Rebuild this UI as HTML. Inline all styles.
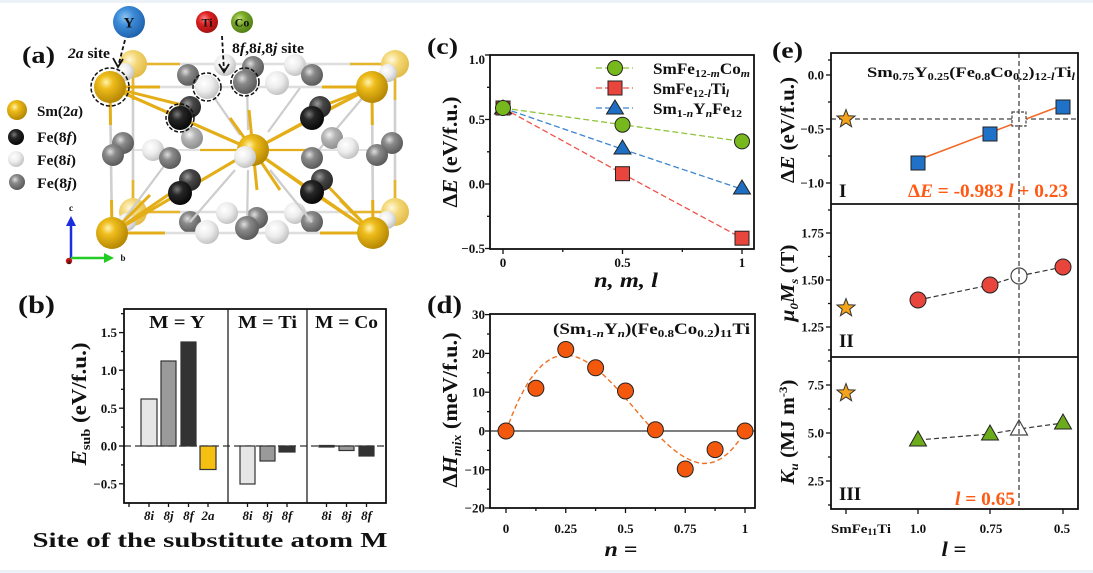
<!DOCTYPE html>
<html><head><meta charset="utf-8">
<style>
html,body{margin:0;padding:0;background:#fff;}
svg{display:block;}
svg text{font-family:"Liberation Serif","Times New Roman","Tinos","Nimbus Roman",Times,serif;font-weight:bold;fill:#111;}
</style></head><body>
<svg width="1093" height="573" viewBox="0 0 1093 573" xmlns="http://www.w3.org/2000/svg" font-family="'Liberation Serif','Times New Roman',Tinos,'Nimbus Roman',Times,serif" font-weight="bold">
<defs>
<radialGradient id="gGold" cx="0.38" cy="0.35" r="0.7"><stop offset="0" stop-color="#fff3b0"/><stop offset="0.3" stop-color="#efbd1c"/><stop offset="1" stop-color="#b08200"/></radialGradient>
<radialGradient id="gFade" cx="0.38" cy="0.35" r="0.7"><stop offset="0" stop-color="#fff8dc"/><stop offset="0.4" stop-color="#f4d877"/><stop offset="1" stop-color="#e0b944"/></radialGradient>
<radialGradient id="gBlack" cx="0.38" cy="0.35" r="0.7"><stop offset="0" stop-color="#7a7a7a"/><stop offset="0.35" stop-color="#262626"/><stop offset="1" stop-color="#050505"/></radialGradient>
<radialGradient id="gDark" cx="0.38" cy="0.35" r="0.7"><stop offset="0" stop-color="#9a9a9a"/><stop offset="0.4" stop-color="#474747"/><stop offset="1" stop-color="#262626"/></radialGradient>
<radialGradient id="gGray" cx="0.38" cy="0.35" r="0.7"><stop offset="0" stop-color="#dedede"/><stop offset="0.35" stop-color="#8a8a8a"/><stop offset="1" stop-color="#555"/></radialGradient>
<radialGradient id="gLgray" cx="0.38" cy="0.35" r="0.7"><stop offset="0" stop-color="#f2f2f2"/><stop offset="0.4" stop-color="#b4b4b4"/><stop offset="1" stop-color="#8a8a8a"/></radialGradient>
<radialGradient id="gWhite" cx="0.38" cy="0.35" r="0.7"><stop offset="0" stop-color="#ffffff"/><stop offset="0.5" stop-color="#ececec"/><stop offset="1" stop-color="#bdbdbd"/></radialGradient>
<radialGradient id="gBlue" cx="0.38" cy="0.35" r="0.7"><stop offset="0" stop-color="#8cc4f0"/><stop offset="0.4" stop-color="#3b8ad8"/><stop offset="1" stop-color="#1d5fa8"/></radialGradient>
<radialGradient id="gRed" cx="0.38" cy="0.35" r="0.7"><stop offset="0" stop-color="#ff8a8a"/><stop offset="0.4" stop-color="#dc2020"/><stop offset="1" stop-color="#9c1010"/></radialGradient>
<radialGradient id="gGreen" cx="0.38" cy="0.35" r="0.7"><stop offset="0" stop-color="#c4e47a"/><stop offset="0.4" stop-color="#79a82a"/><stop offset="1" stop-color="#4e7a12"/></radialGradient>
<polygon id="star" points="0,-9.5 2.35,-3.24 9.04,-2.94 3.8,1.24 5.58,7.69 0,4 -5.58,7.69 -3.8,1.24 -9.04,-2.94 -2.35,-3.24" fill="#f5a31a" stroke="#333" stroke-width="1"/>
</defs>

<rect width="1093" height="573" fill="#fff"/>
<rect width="1093" height="3" fill="#edf2f8"/>
<rect y="570" width="1093" height="3" fill="#edf2f8"/>

<!-- ================= PANEL (a) ================= -->
<text x="22" y="63" font-size="24" textLength="33" lengthAdjust="spacingAndGlyphs">(a)</text>

<circle cx="129" cy="22" r="16" fill="url(#gBlue)"/>
<text x="129" y="27.5" font-size="15" text-anchor="middle">Y</text>
<circle cx="207" cy="22" r="11" fill="url(#gRed)"/>
<text x="207" y="26.5" font-size="12" text-anchor="middle">Ti</text>
<circle cx="242" cy="22" r="11" fill="url(#gGreen)"/>
<text x="242" y="26.5" font-size="12" text-anchor="middle">Co</text>

<text x="68" y="58" font-size="15" textLength="42" lengthAdjust="spacingAndGlyphs"><tspan font-style="italic">2a</tspan> site</text>
<text x="232" y="53" font-size="15" textLength="72" lengthAdjust="spacingAndGlyphs">8<tspan font-style="italic">f</tspan>,8<tspan font-style="italic">i</tspan>,8<tspan font-style="italic">j</tspan> site</text>

<circle cx="17" cy="110" r="10" fill="url(#gGold)"/>
<text x="37" y="116" font-size="15" textLength="46" lengthAdjust="spacingAndGlyphs">Sm(2<tspan font-style="italic">a</tspan>)</text>
<circle cx="16" cy="137" r="8" fill="url(#gBlack)"/>
<text x="37" y="142" font-size="15" textLength="40" lengthAdjust="spacingAndGlyphs">Fe(8<tspan font-style="italic">f</tspan>)</text>
<circle cx="16" cy="159" r="8" fill="url(#gWhite)"/>
<text x="37" y="165" font-size="15" textLength="39" lengthAdjust="spacingAndGlyphs">Fe(8<tspan font-style="italic">i</tspan>)</text>
<circle cx="17" cy="182" r="8" fill="url(#gGray)"/>
<text x="37" y="188" font-size="15" textLength="40" lengthAdjust="spacingAndGlyphs">Fe(8<tspan font-style="italic">j</tspan>)</text>

<line x1="71" y1="258" x2="71" y2="224" stroke="#1a2ee0" stroke-width="2.5"/>
<polygon points="66,226 71,216 76,226" fill="#1a2ee0"/>
<text x="71" y="211" font-size="9" text-anchor="middle">c</text>
<line x1="71" y1="258" x2="106" y2="258" stroke="#22cc22" stroke-width="2.5"/>
<polygon points="104,253 114,258 104,263" fill="#22cc22"/>
<text x="123" y="261" font-size="9" text-anchor="middle">b</text>
<circle cx="69" cy="261" r="3.2" fill="#c01818"/>
<text x="69" y="264" font-size="7" text-anchor="middle">a</text>

<g stroke-width="2.6" fill="none">
 <line x1="113" y1="150" x2="393" y2="150" stroke="#e2e2e2" stroke-width="2"/>
 <line x1="133" y1="64" x2="395" y2="64" stroke="#dedede"/>
 <line x1="133" y1="64" x2="180" y2="64" stroke="#e6b62a"/>
 <line x1="350" y1="64" x2="395" y2="64" stroke="#e6b62a"/>
 <line x1="133" y1="212" x2="395" y2="212" stroke="#dedede"/>
 <line x1="133" y1="212" x2="180" y2="212" stroke="#e6b62a"/>
 <line x1="350" y1="212" x2="395" y2="212" stroke="#e6b62a"/>
 <line x1="133" y1="64" x2="133" y2="212" stroke="#cfcfcf"/>
 <line x1="395" y1="64" x2="395" y2="212" stroke="#cfcfcf"/>
 <line x1="133" y1="64" x2="133" y2="100" stroke="#e6b62a"/>
 <line x1="133" y1="180" x2="133" y2="212" stroke="#e6b62a"/>
 <line x1="395" y1="64" x2="395" y2="100" stroke="#e6b62a"/>
 <line x1="395" y1="180" x2="395" y2="212" stroke="#e6b62a"/>
 <line x1="110" y1="87" x2="133" y2="64" stroke="#e6b62a"/>
 <line x1="372" y1="87" x2="395" y2="64" stroke="#e6b62a"/>
 <line x1="112" y1="233" x2="133" y2="212" stroke="#e6b62a"/>
 <line x1="373" y1="233" x2="395" y2="212" stroke="#e6b62a"/>
</g>

<circle cx="133" cy="64" r="14" fill="url(#gFade)"/>
<circle cx="395" cy="64" r="14" fill="url(#gFade)"/>
<circle cx="133" cy="212" r="14" fill="url(#gFade)"/>
<circle cx="395" cy="212" r="14" fill="url(#gFade)"/>
<circle cx="125" cy="72" r="9" fill="url(#gWhite)"/>
<circle cx="388" cy="73" r="9" fill="url(#gWhite)"/>
<circle cx="127" cy="222" r="9" fill="url(#gWhite)"/>
<circle cx="387" cy="220" r="9" fill="url(#gWhite)"/>

<circle cx="188" cy="75" r="11" fill="url(#gGray)"/>
<circle cx="225" cy="65" r="11" fill="url(#gWhite)"/>
<circle cx="253" cy="67" r="11" fill="url(#gGray)"/>
<circle cx="295" cy="65" r="11" fill="url(#gWhite)"/>
<circle cx="312" cy="75" r="11" fill="url(#gGray)"/>
<circle cx="227" cy="213" r="11" fill="url(#gWhite)"/>
<circle cx="257" cy="218" r="11" fill="url(#gGray)"/>
<circle cx="295" cy="213" r="11" fill="url(#gWhite)"/>
<circle cx="312" cy="222" r="11" fill="url(#gGray)"/>
<circle cx="190" cy="222" r="11" fill="url(#gGray)"/>

<g stroke="#cdcdcd" stroke-width="2.2" fill="none">
 <line x1="207" y1="87" x2="240" y2="135"/>
 <line x1="247" y1="82" x2="248" y2="130"/>
 <line x1="300" y1="88" x2="268" y2="132"/>
 <line x1="312" y1="158" x2="365" y2="95"/>
 <line x1="170" y1="158" x2="120" y2="225"/>
 <line x1="190" y1="222" x2="235" y2="170"/>
 <line x1="247" y1="228" x2="248" y2="170"/>
 <line x1="312" y1="222" x2="270" y2="170"/>
</g>

<g stroke="#e3ae18" stroke-width="3" fill="none">
 <line x1="110" y1="87" x2="372" y2="87" stroke="#dedede" stroke-width="2.6"/>
 <line x1="110" y1="87" x2="160" y2="87"/>
 <line x1="322" y1="87" x2="372" y2="87"/>
 <line x1="112" y1="233" x2="373" y2="233" stroke="#dedede" stroke-width="2.6"/>
 <line x1="112" y1="233" x2="165" y2="233"/>
 <line x1="320" y1="233" x2="373" y2="233"/>
 <line x1="110" y1="87" x2="112" y2="233" stroke="#cfcfcf" stroke-width="2.6"/>
 <line x1="110" y1="87" x2="110.5" y2="125"/>
 <line x1="111.5" y1="200" x2="112" y2="233"/>
 <line x1="372" y1="87" x2="373" y2="233" stroke="#cfcfcf" stroke-width="2.6"/>
 <line x1="372" y1="87" x2="372.3" y2="125"/>
 <line x1="372.7" y1="200" x2="373" y2="233"/>
 <line x1="253" y1="150" x2="110" y2="87"/>
 <line x1="253" y1="150" x2="372" y2="87"/>
 <line x1="253" y1="150" x2="112" y2="233"/>
 <line x1="253" y1="150" x2="373" y2="233"/>
 <line x1="253" y1="150" x2="180" y2="118"/>
 <line x1="253" y1="150" x2="312" y2="118"/>
 <line x1="253" y1="150" x2="180" y2="193"/>
 <line x1="253" y1="150" x2="312" y2="192"/>
 <line x1="253" y1="150" x2="230" y2="118"/>
 <line x1="253" y1="150" x2="249" y2="110"/>
 <line x1="253" y1="150" x2="257" y2="190"/>
 <line x1="253" y1="150" x2="280" y2="190"/>
 <line x1="253" y1="150" x2="200" y2="150" stroke-width="2.2"/>
 <line x1="253" y1="150" x2="306" y2="150" stroke-width="2.2"/>
 <line x1="110" y1="87" x2="180" y2="118"/>
 <line x1="110" y1="87" x2="190" y2="107"/>
 <line x1="372" y1="87" x2="312" y2="118"/>
 <line x1="372" y1="87" x2="320" y2="107"/>
 <line x1="112" y1="233" x2="180" y2="193"/>
 <line x1="112" y1="233" x2="190" y2="180"/>
 <line x1="373" y1="233" x2="312" y2="192"/>
 <line x1="373" y1="233" x2="322" y2="180"/>
 <line x1="112" y1="233" x2="150" y2="195"/>
 <line x1="373" y1="233" x2="340" y2="200"/>
</g>

<circle cx="207" cy="87" r="12" fill="url(#gWhite)"/>
<circle cx="245" cy="82" r="12" fill="url(#gGray)"/>
<circle cx="277" cy="83" r="12" fill="url(#gWhite)"/>

<circle cx="190" cy="107" r="11" fill="url(#gDark)"/>
<circle cx="320" cy="107" r="11" fill="url(#gDark)"/>
<circle cx="180" cy="118" r="12" fill="url(#gBlack)"/>
<circle cx="312" cy="118" r="12" fill="url(#gBlack)"/>
<circle cx="192" cy="138" r="11" fill="url(#gLgray)"/>
<circle cx="332" cy="138" r="11" fill="url(#gLgray)"/>
<circle cx="123" cy="143" r="11" fill="url(#gGray)"/>
<circle cx="113" cy="155" r="11" fill="url(#gGray)"/>
<circle cx="392" cy="143" r="11" fill="url(#gGray)"/>
<circle cx="377" cy="155" r="11" fill="url(#gGray)"/>
<circle cx="153" cy="150" r="11" fill="url(#gWhite)"/>
<circle cx="348" cy="148" r="11" fill="url(#gWhite)"/>
<circle cx="170" cy="158" r="11" fill="url(#gGray)"/>
<circle cx="312" cy="158" r="11" fill="url(#gGray)"/>
<circle cx="253" cy="150" r="16" fill="url(#gGold)"/>
<circle cx="245" cy="157" r="11" fill="url(#gWhite)"/>
<circle cx="190" cy="180" r="11" fill="url(#gDark)"/>
<circle cx="322" cy="180" r="11" fill="url(#gDark)"/>
<circle cx="180" cy="193" r="12" fill="url(#gBlack)"/>
<circle cx="312" cy="192" r="12" fill="url(#gBlack)"/>

<circle cx="207" cy="232" r="12" fill="url(#gWhite)"/>
<circle cx="247" cy="228" r="12" fill="url(#gGray)"/>
<circle cx="277" cy="232" r="12" fill="url(#gWhite)"/>

<circle cx="110" cy="87" r="16" fill="url(#gGold)"/>
<circle cx="372" cy="87" r="16" fill="url(#gGold)"/>
<circle cx="112" cy="233" r="16" fill="url(#gGold)"/>
<circle cx="373" cy="233" r="16" fill="url(#gGold)"/>

<g fill="none" stroke="#111" stroke-width="1.5" stroke-dasharray="4,2">
 <circle cx="110" cy="87" r="19"/>
 <circle cx="207" cy="87" r="14"/>
 <circle cx="245" cy="82" r="14"/>
 <circle cx="180" cy="118" r="14"/>
</g>
<g stroke="#111" stroke-width="1.8" fill="none">
 <line x1="125" y1="40" x2="118.5" y2="65" stroke-dasharray="4,2.5"/>
 <polyline points="113,58 118,67 123,59"/>
 <line x1="222" y1="36" x2="224" y2="71" stroke-dasharray="4,2.5"/>
 <polyline points="219,64 224,72 229,64"/>
</g>

<!-- ================= PANEL (b) ================= -->
<text x="18" y="313" font-size="25" textLength="37" lengthAdjust="spacingAndGlyphs">(b)</text>
<line x1="124" y1="446" x2="386" y2="446" stroke="#333" stroke-width="1.3" stroke-dasharray="7,4"/>
<g stroke="#333" stroke-width="1.2">
 <rect x="141" y="399" width="16" height="47" fill="#e6e6e6"/>
 <rect x="161" y="361" width="15" height="85" fill="#9a9a9a"/>
 <rect x="181" y="342" width="15" height="104" fill="#333"/>
 <rect x="200" y="446" width="16" height="23.5" fill="#f5c012"/>
 <rect x="240" y="446" width="15" height="38" fill="#e6e6e6"/>
 <rect x="260" y="446" width="15" height="15" fill="#9a9a9a"/>
 <rect x="279" y="446" width="16" height="6" fill="#333"/>
 <rect x="319" y="445.5" width="15" height="1.5" fill="#333"/>
 <rect x="339" y="446" width="15" height="4.5" fill="#9a9a9a"/>
 <rect x="359" y="446" width="15" height="10" fill="#333"/>
</g>
<line x1="228" y1="309" x2="228" y2="503" stroke="#222" stroke-width="1.3"/>
<line x1="307" y1="309" x2="307" y2="503" stroke="#222" stroke-width="1.3"/>
<rect x="124" y="309" width="262" height="194" fill="none" stroke="#111" stroke-width="1.8"/>
<g stroke="#111" stroke-width="1.3">
 <line x1="119" y1="332.6" x2="124" y2="332.6"/><line x1="119" y1="370.2" x2="124" y2="370.2"/>
 <line x1="119" y1="408.2" x2="124" y2="408.2"/><line x1="119" y1="446" x2="124" y2="446"/>
 <line x1="119" y1="483.8" x2="124" y2="483.8"/>
 <line x1="121" y1="313.7" x2="124" y2="313.7"/><line x1="121" y1="351.5" x2="124" y2="351.5"/>
 <line x1="121" y1="389.3" x2="124" y2="389.3"/><line x1="121" y1="427.1" x2="124" y2="427.1"/>
 <line x1="121" y1="464.9" x2="124" y2="464.9"/>
 <line x1="129" y1="503" x2="129" y2="507"/><line x1="149" y1="503" x2="149" y2="507"/>
 <line x1="168.5" y1="503" x2="168.5" y2="507"/><line x1="188.5" y1="503" x2="188.5" y2="507"/>
 <line x1="208" y1="503" x2="208" y2="507"/><line x1="247.5" y1="503" x2="247.5" y2="507"/>
 <line x1="267.5" y1="503" x2="267.5" y2="507"/><line x1="287" y1="503" x2="287" y2="507"/>
 <line x1="326.5" y1="503" x2="326.5" y2="507"/><line x1="346.5" y1="503" x2="346.5" y2="507"/>
 <line x1="366.5" y1="503" x2="366.5" y2="507"/>
</g>
<g font-size="13" text-anchor="end">
 <text x="117" y="337">1.5</text><text x="117" y="375">1.0</text><text x="117" y="413">0.5</text>
 <text x="117" y="450.5">0.0</text><text x="117" y="488.5">−0.5</text>
</g>
<text x="177" y="328" font-size="18" text-anchor="middle" textLength="56" lengthAdjust="spacingAndGlyphs">M = Y</text>
<text x="267.5" y="328" font-size="18" text-anchor="middle" textLength="59" lengthAdjust="spacingAndGlyphs">M = Ti</text>
<text x="346.5" y="328" font-size="18" text-anchor="middle" textLength="63" lengthAdjust="spacingAndGlyphs">M = Co</text>
<g font-size="13" font-style="italic" text-anchor="middle">
 <text x="149" y="520">8i</text><text x="168.5" y="520">8j</text><text x="188.5" y="520">8f</text><text x="208" y="520">2a</text>
 <text x="247.5" y="520">8i</text><text x="267.5" y="520">8j</text><text x="287" y="520">8f</text>
 <text x="326.5" y="520">8i</text><text x="346.5" y="520">8j</text><text x="366.5" y="520">8f</text>
</g>
<text x="210" y="547" font-size="21" text-anchor="middle" textLength="355" lengthAdjust="spacingAndGlyphs">Site of the substitute atom M</text>
<text transform="translate(86,404) rotate(-90)" font-size="21" text-anchor="middle" textLength="123" lengthAdjust="spacingAndGlyphs"><tspan font-style="italic">E</tspan><tspan font-size="13" dy="4">sub</tspan><tspan dy="-4"> (eV/f.u.)</tspan></text>

<!-- ================= PANEL (c) ================= -->
<text x="427" y="54" font-size="23" textLength="31" lengthAdjust="spacingAndGlyphs">(c)</text>
<polyline points="503,108 622.5,124.7 742,141.4" fill="none" stroke="#8fc43a" stroke-width="1.3" stroke-dasharray="6,3"/>
<polyline points="503,108 622.5,173.7 742,238.2" fill="none" stroke="#f0544a" stroke-width="1.3" stroke-dasharray="6,3"/>
<polyline points="503,108 622.5,149.2 742,189.2" fill="none" stroke="#3d85d0" stroke-width="1.3" stroke-dasharray="6,3"/>
<g fill="#1e6fc4" stroke="#222" stroke-width="1">
 <polygon points="503,100 511.5,114 494.5,114"/>
 <polygon points="622.5,140 631,154 614,154"/>
 <polygon points="742,180 750.5,194 733.5,194"/>
</g>
<g fill="#e8453c" stroke="#222" stroke-width="1">
 <rect x="496" y="101" width="14" height="14"/>
 <rect x="615.5" y="166.7" width="14" height="14"/>
 <rect x="735" y="231.2" width="14" height="14"/>
</g>
<g fill="#77b81d" stroke="#222" stroke-width="1">
 <circle cx="503" cy="108" r="7.5"/><circle cx="622.5" cy="124.7" r="7.5"/><circle cx="742" cy="141.4" r="7.5"/>
</g>
<line x1="596" y1="68" x2="633" y2="68" stroke="#8fc43a" stroke-width="1.3" stroke-dasharray="6,3"/>
<circle cx="615" cy="68" r="7.5" fill="#77b81d" stroke="#222"/>
<line x1="596" y1="88" x2="633" y2="88" stroke="#f0544a" stroke-width="1.3" stroke-dasharray="6,3"/>
<rect x="608" y="81" width="14" height="14" fill="#e8453c" stroke="#222"/>
<line x1="596" y1="108" x2="633" y2="108" stroke="#3d85d0" stroke-width="1.3" stroke-dasharray="6,3"/>
<polygon points="615,100 623.5,114 606.5,114" fill="#1e6fc4" stroke="#222"/>
<text x="653" y="74" font-size="16" textLength="97" lengthAdjust="spacingAndGlyphs">SmFe<tspan font-size="11" dy="3">12-<tspan font-style="italic">m</tspan></tspan><tspan dy="-3">Co</tspan><tspan font-size="11" dy="3" font-style="italic">m</tspan></text>
<text x="653" y="94" font-size="16" textLength="76" lengthAdjust="spacingAndGlyphs">SmFe<tspan font-size="11" dy="3">12-<tspan font-style="italic">l</tspan></tspan><tspan dy="-3">Ti</tspan><tspan font-size="11" dy="3" font-style="italic">l</tspan></text>
<text x="653" y="114" font-size="16" textLength="89" lengthAdjust="spacingAndGlyphs">Sm<tspan font-size="11" dy="3">1-<tspan font-style="italic">n</tspan></tspan><tspan dy="-3">Y</tspan><tspan font-size="11" dy="3" font-style="italic">n</tspan><tspan dy="-3">Fe</tspan><tspan font-size="11" dy="3">12</tspan></text>
<rect x="490" y="55" width="264" height="194" fill="none" stroke="#111" stroke-width="1.8"/>
<g stroke="#111" stroke-width="1.3">
 <line x1="485" y1="55" x2="490" y2="55"/><line x1="485" y1="119.5" x2="490" y2="119.5"/>
 <line x1="485" y1="184" x2="490" y2="184"/><line x1="485" y1="248.5" x2="490" y2="248.5"/>
 <line x1="487" y1="87.3" x2="490" y2="87.3"/><line x1="487" y1="151.8" x2="490" y2="151.8"/>
 <line x1="487" y1="216.3" x2="490" y2="216.3"/>
 <line x1="503" y1="249" x2="503" y2="254"/><line x1="622.5" y1="249" x2="622.5" y2="254"/>
 <line x1="742" y1="249" x2="742" y2="254"/>
 <line x1="562.8" y1="249" x2="562.8" y2="252"/><line x1="682.3" y1="249" x2="682.3" y2="252"/>
</g>
<g font-size="13" text-anchor="end">
 <text x="485" y="64">1.0</text><text x="485" y="124">0.5</text><text x="485" y="188.5">0.0</text><text x="485" y="253">−0.5</text>
</g>
<g font-size="13" text-anchor="middle">
 <text x="503" y="267">0</text><text x="622.5" y="267">0.5</text><text x="742" y="267">1</text>
</g>
<text x="626" y="287" font-size="21" font-style="italic" text-anchor="middle" textLength="64" lengthAdjust="spacingAndGlyphs">n, m, l</text>
<text transform="translate(457,152) rotate(-90)" font-size="21" text-anchor="middle" textLength="111" lengthAdjust="spacingAndGlyphs">Δ<tspan font-style="italic">E</tspan> (eV/f.u.)</text>

<!-- ================= PANEL (d) ================= -->
<text x="427" y="313" font-size="25" textLength="35" lengthAdjust="spacingAndGlyphs">(d)</text>
<line x1="490" y1="431" x2="755" y2="431" stroke="#555" stroke-width="1.5"/>
<polyline fill="none" stroke="#f07020" stroke-width="1.4" stroke-dasharray="5,3" points="506,431 511.98,415.4 517.95,401.38 523.9,389.9 529.9,379.78 535.9,371.9 541.85,365.43 547.8,360.8 553.8,357.47 559.8,355.6 565.75,355.11 571.7,355.8 577.7,357.47 583.7,360.2 589.65,363.8 595.6,368.2 601.6,373.23 607.6,378.9 613.55,384.94 619.5,391.5 625.5,398.18 631.5,405.1 637.45,412.04 643.4,419 649.4,425.75 655.4,432.3 661.35,438.47 667.3,444.2 673.3,449.38 679.3,453.9 685.25,457.67 691.2,460.5 697.2,462.51 703.2,463.5 709.15,463.09 715.1,461.6 721.1,458.57 727.1,454.1 733.05,448.15 739,440.5 745,431"/>
<g fill="#f4580c" stroke="#222" stroke-width="1">
 <circle cx="506" cy="431" r="8"/><circle cx="535.9" cy="388.3" r="8"/><circle cx="565.75" cy="349.5" r="8"/>
 <circle cx="595.6" cy="367.8" r="8"/><circle cx="625.5" cy="391" r="8"/><circle cx="655.4" cy="429.8" r="8"/>
 <circle cx="685.25" cy="469" r="8"/><circle cx="715.1" cy="449.6" r="8"/><circle cx="745" cy="431" r="8"/>
</g>
<rect x="490" y="314" width="265" height="194" fill="none" stroke="#111" stroke-width="1.8"/>
<g stroke="#111" stroke-width="1.3">
 <line x1="485" y1="314.6" x2="490" y2="314.6"/><line x1="485" y1="353.4" x2="490" y2="353.4"/>
 <line x1="485" y1="392.2" x2="490" y2="392.2"/><line x1="485" y1="431" x2="490" y2="431"/>
 <line x1="485" y1="469.8" x2="490" y2="469.8"/><line x1="485" y1="508" x2="490" y2="508"/>
 <line x1="487" y1="334" x2="490" y2="334"/><line x1="487" y1="372.8" x2="490" y2="372.8"/>
 <line x1="487" y1="411.6" x2="490" y2="411.6"/><line x1="487" y1="450.4" x2="490" y2="450.4"/>
 <line x1="487" y1="489.2" x2="490" y2="489.2"/>
 <line x1="506" y1="508" x2="506" y2="513"/><line x1="565.75" y1="508" x2="565.75" y2="513"/>
 <line x1="625.5" y1="508" x2="625.5" y2="513"/><line x1="685.25" y1="508" x2="685.25" y2="513"/>
 <line x1="745" y1="508" x2="745" y2="513"/>
 <line x1="535.9" y1="508" x2="535.9" y2="511"/><line x1="595.6" y1="508" x2="595.6" y2="511"/>
 <line x1="655.4" y1="508" x2="655.4" y2="511"/><line x1="715.1" y1="508" x2="715.1" y2="511"/>
</g>
<g font-size="13" text-anchor="end">
 <text x="485" y="319">30</text><text x="485" y="358">20</text><text x="485" y="396.7">10</text>
 <text x="485" y="435.5">0</text><text x="485" y="474.3">−10</text><text x="485" y="512.5">−20</text>
</g>
<g font-size="13" text-anchor="middle">
 <text x="506" y="533">0</text><text x="565.75" y="533">0.25</text><text x="625.5" y="533">0.5</text>
 <text x="685.25" y="533">0.75</text><text x="745" y="533">1</text>
</g>
<text x="750" y="334" font-size="16" text-anchor="end" textLength="197" lengthAdjust="spacingAndGlyphs">(Sm<tspan font-size="11" dy="3">1-<tspan font-style="italic">n</tspan></tspan><tspan dy="-3">Y</tspan><tspan font-size="11" dy="3" font-style="italic">n</tspan><tspan dy="-3">)(Fe</tspan><tspan font-size="11" dy="3">0.8</tspan><tspan dy="-3">Co</tspan><tspan font-size="11" dy="3">0.2</tspan><tspan dy="-3">)</tspan><tspan font-size="11" dy="3">11</tspan><tspan dy="-3">Ti</tspan></text>
<text x="621" y="556" font-size="21" text-anchor="middle" textLength="33" lengthAdjust="spacingAndGlyphs"><tspan font-style="italic">n</tspan> =</text>
<text transform="translate(457,410) rotate(-90)" font-size="21" text-anchor="middle" textLength="155" lengthAdjust="spacingAndGlyphs">Δ<tspan font-style="italic">H</tspan><tspan font-size="13" dy="4" font-style="italic">mix</tspan><tspan dy="-4"> (meV/f.u.)</tspan></text>

<!-- ================= PANEL (e) ================= -->
<text x="772" y="58" font-size="23" textLength="31" lengthAdjust="spacingAndGlyphs">(e)</text>
<line x1="831" y1="119" x2="1078" y2="119" stroke="#444" stroke-width="1.3" stroke-dasharray="5,3"/>
<line x1="918" y1="160" x2="1063" y2="105" stroke="#f26722" stroke-width="1.5"/>
<use href="#star" x="846" y="119"/>
<g fill="#1f72c8" stroke="#222" stroke-width="1">
 <rect x="911" y="156" width="14" height="14"/>
 <rect x="983" y="127" width="14" height="14"/>
 <rect x="1056" y="100" width="14" height="14"/>
</g>
<rect x="1012" y="112" width="14" height="14" fill="#fff" stroke="#444" stroke-width="1.2" stroke-dasharray="3,1.5"/>
<text x="867" y="77" font-size="15" textLength="208" lengthAdjust="spacingAndGlyphs">Sm<tspan font-size="10" dy="3">0.75</tspan><tspan dy="-3">Y</tspan><tspan font-size="10" dy="3">0.25</tspan><tspan dy="-3">(Fe</tspan><tspan font-size="10" dy="3">0.8</tspan><tspan dy="-3">Co</tspan><tspan font-size="10" dy="3">0.2</tspan><tspan dy="-3">)</tspan><tspan font-size="10" dy="3">12-<tspan font-style="italic">l</tspan></tspan><tspan dy="-3">Ti</tspan><tspan font-size="10" dy="3" font-style="italic">l</tspan></text>
<text x="839" y="197" font-size="19">I</text>
<text x="908" y="197" font-size="19" style="fill:#ff5a14" textLength="160" lengthAdjust="spacingAndGlyphs">Δ<tspan font-style="italic">E</tspan> = -0.983 <tspan font-style="italic">l</tspan> + 0.23</text>

<polyline points="918,300 990,285 1019,276 1063,267" fill="none" stroke="#333" stroke-width="1.2" stroke-dasharray="5,3"/>
<use href="#star" x="846" y="308"/>
<g fill="#e8453c" stroke="#222" stroke-width="1">
 <circle cx="918" cy="300" r="8"/><circle cx="990" cy="285" r="8"/><circle cx="1063" cy="267" r="8"/>
</g>
<circle cx="1019" cy="276" r="8" fill="#fff" stroke="#444" stroke-width="1.2"/>
<text x="839" y="347" font-size="19">II</text>

<polyline points="918,440 990,434 1019,429 1063,423" fill="none" stroke="#333" stroke-width="1.2" stroke-dasharray="5,3"/>
<use href="#star" x="846" y="393"/>
<g fill="#6cab1c" stroke="#222" stroke-width="1">
 <polygon points="918,431 926.5,446 909.5,446"/>
 <polygon points="990,425 998.5,440 981.5,440"/>
 <polygon points="1063,414 1071.5,429 1054.5,429"/>
</g>
<polygon points="1019,420 1027.5,435 1010.5,435" fill="#fff" stroke="#444" stroke-width="1.2"/>
<text x="839" y="500" font-size="19">III</text>
<text x="955" y="505" font-size="19" style="fill:#ff5a14" textLength="60" lengthAdjust="spacingAndGlyphs"><tspan font-style="italic">l</tspan> = 0.65</text>

<line x1="1019" y1="53" x2="1019" y2="509" stroke="#444" stroke-width="1.3" stroke-dasharray="5,3"/>
<rect x="831" y="53" width="247" height="456" fill="none" stroke="#111" stroke-width="1.8"/>
<line x1="831" y1="204" x2="1078" y2="204" stroke="#111" stroke-width="1.8"/>
<line x1="831" y1="357" x2="1078" y2="357" stroke="#111" stroke-width="1.8"/>
<g stroke="#111" stroke-width="1.3">
 <line x1="826" y1="75" x2="831" y2="75"/><line x1="826" y1="129" x2="831" y2="129"/><line x1="826" y1="183" x2="831" y2="183"/>
 <line x1="828" y1="102" x2="831" y2="102"/><line x1="828" y1="156" x2="831" y2="156"/><line x1="828" y1="60" x2="831" y2="60"/>
 <line x1="826" y1="233" x2="831" y2="233"/><line x1="826" y1="280" x2="831" y2="280"/><line x1="826" y1="327" x2="831" y2="327"/>
 <line x1="828" y1="256.5" x2="831" y2="256.5"/><line x1="828" y1="303.5" x2="831" y2="303.5"/><line x1="828" y1="210" x2="831" y2="210"/><line x1="828" y1="350" x2="831" y2="350"/>
 <line x1="826" y1="385" x2="831" y2="385"/><line x1="826" y1="433" x2="831" y2="433"/><line x1="826" y1="481" x2="831" y2="481"/>
 <line x1="828" y1="409" x2="831" y2="409"/><line x1="828" y1="457" x2="831" y2="457"/><line x1="828" y1="361" x2="831" y2="361"/><line x1="828" y1="505" x2="831" y2="505"/>
 <line x1="846" y1="509" x2="846" y2="514"/><line x1="918" y1="509" x2="918" y2="514"/>
 <line x1="990" y1="509" x2="990" y2="514"/><line x1="1063" y1="509" x2="1063" y2="514"/>
</g>
<g font-size="13" text-anchor="end">
 <text x="824" y="79.5">0.0</text><text x="824" y="133.5">−0.5</text><text x="824" y="187.5">−1.0</text>
 <text x="824" y="237.5">1.75</text><text x="824" y="284.5">1.50</text><text x="824" y="331.5">1.25</text>
 <text x="824" y="389.5">7.5</text><text x="824" y="437.5">5.0</text><text x="824" y="485.5">2.5</text>
</g>
<g font-size="13" text-anchor="middle">
 <text x="861" y="533" font-size="13" textLength="60" lengthAdjust="spacingAndGlyphs">SmFe<tspan font-size="9" dy="2">11</tspan><tspan dy="-2">Ti</tspan></text>
 <text x="918" y="533">1.0</text><text x="991" y="533">0.75</text><text x="1062" y="533">0.5</text>
</g>
<text x="954" y="556" font-size="21" text-anchor="middle" textLength="25" lengthAdjust="spacingAndGlyphs"><tspan font-style="italic">l</tspan> =</text>
<text transform="translate(794,130) rotate(-90)" font-size="20" text-anchor="middle" textLength="106" lengthAdjust="spacingAndGlyphs">Δ<tspan font-style="italic">E</tspan> (eV/f.u.)</text>
<text transform="translate(794,283) rotate(-90)" font-size="20" text-anchor="middle" textLength="77" lengthAdjust="spacingAndGlyphs"><tspan font-style="italic">μ</tspan><tspan font-size="12" dy="4" font-style="italic">0</tspan><tspan dy="-4" font-style="italic">M</tspan><tspan font-size="12" dy="4" font-style="italic">s</tspan><tspan dy="-4"> (T)</tspan></text>
<text transform="translate(794,432) rotate(-90)" font-size="20" text-anchor="middle" textLength="105" lengthAdjust="spacingAndGlyphs"><tspan font-style="italic">K</tspan><tspan font-size="12" dy="4" font-style="italic">u</tspan><tspan dy="-4"> (MJ m</tspan><tspan font-size="12" dy="-7">-3</tspan><tspan dy="7">)</tspan></text>
</svg>
</body></html>
